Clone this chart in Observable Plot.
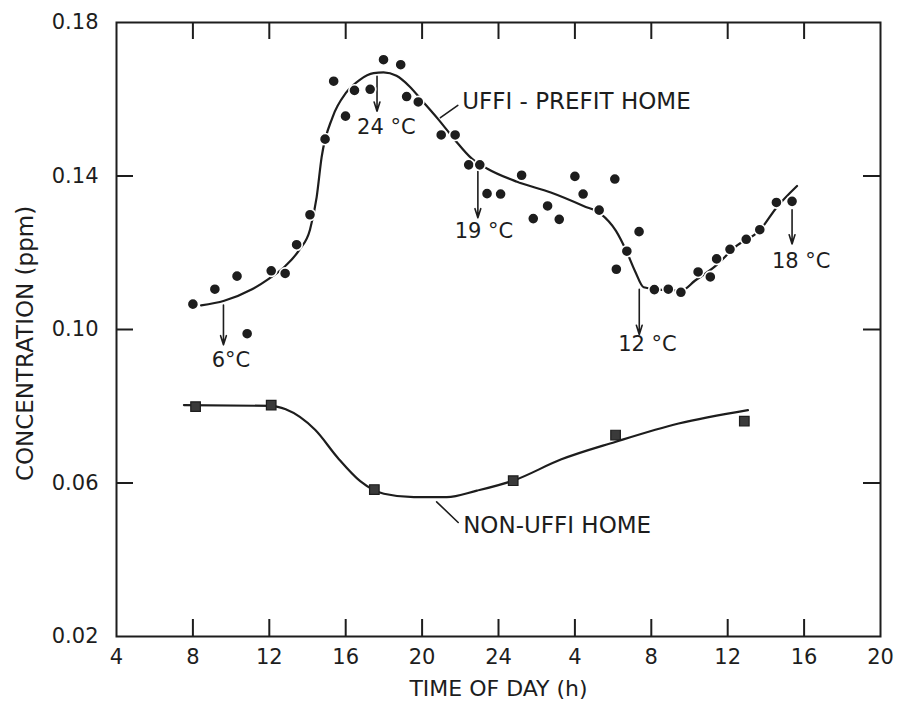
<!DOCTYPE html>
<html>
<head>
<meta charset="utf-8">
<script src="https://cdn.jsdelivr.net/npm/d3@7"></script>
<script src="https://cdn.jsdelivr.net/npm/@observablehq/plot@0.6"></script>
<style>
  html, body { margin: 0; padding: 0; background: #fff; }
  #chart svg { display: block; }
</style>
</head>
<body>
<div id="chart"></div>
<script>
// ---------- data ----------
// hours are continuous (4 .. 44); labels wrap past midnight
const xTickValues = [4, 8, 12, 16, 20, 24, 28, 32, 36, 40, 44];
const xTickLabels = ["4", "8", "12", "16", "20", "24", "4", "8", "12", "16", "20"];
const xInnerTicks = [8, 12, 16, 20, 24, 28, 32, 36, 40];
const yTickValues = [0.02, 0.06, 0.10, 0.14, 0.18];
const yTickLabels = ["0.02", "0.06", "0.10", "0.14", "0.18"];
const yInnerTicks = [0.06, 0.10, 0.14];

// UFFI-prefit home: measured points
const uffiTime = [8.0, 9.15, 10.31, 10.84, 12.10, 12.83, 13.43, 14.13, 14.92, 15.37, 15.99, 16.46, 17.28, 17.98, 18.88,
  19.19, 19.80, 21.0, 21.73, 22.44, 23.02, 23.40, 24.11, 25.21, 25.82, 26.57, 27.18, 28.0, 28.43, 29.27,
  30.09, 30.17, 30.72, 31.36, 32.16, 32.89, 33.55, 34.45, 35.09, 35.42, 36.12, 36.97, 37.68, 38.55, 39.37];
const uffiConc = [0.1066, 0.1105, 0.1139, 0.0989, 0.1153, 0.1146, 0.1221, 0.1299, 0.1496, 0.1647, 0.1556, 0.1623, 0.1626, 0.1703, 0.1690,
  0.1607, 0.1593, 0.1507, 0.1507, 0.1429, 0.1429, 0.1354, 0.1353, 0.1402, 0.1289, 0.1322, 0.1287, 0.1399, 0.1353, 0.1311,
  0.1392, 0.1157, 0.1204, 0.1255, 0.1104, 0.1105, 0.1097, 0.1150, 0.1137, 0.1184, 0.1209, 0.1235, 0.1260, 0.1331, 0.1334];

// UFFI-prefit home: hand-drawn fitted curve
const uffiFitTime = [8.43, 9.64, 11.07, 11.97, 12.83, 13.58, 14.13, 14.48, 14.74, 15.31, 16.02, 16.72, 17.46, 17.98, 18.66,
  19.33, 20.04, 20.86, 21.72, 22.59, 23.42, 24.97, 26.74, 28.45, 29.34, 30.15, 30.70, 31.15, 31.60, 32.54,
  33.59, 34.28, 35.35, 36.41, 37.69, 38.56, 39.63];
const uffiFitConc = [0.1063, 0.1075, 0.1104, 0.1132, 0.1165, 0.1208, 0.1260, 0.1345, 0.1449, 0.1553, 0.1617, 0.1650, 0.1668, 0.1670, 0.1661,
  0.1634, 0.1594, 0.1547, 0.1494, 0.1446, 0.1419, 0.1385, 0.1357, 0.1322, 0.1302, 0.1257, 0.1204, 0.1152, 0.1110, 0.1103,
  0.1102, 0.1127, 0.1165, 0.1216, 0.1259, 0.1318, 0.1374];

// Non-UFFI home: measured points
const nonTime = [8.14, 12.10, 17.50, 24.77, 30.13, 36.87];
const nonConc = [0.0799, 0.0803, 0.0583, 0.0606, 0.0725, 0.0761];

// Non-UFFI home: fitted curve
const nonFitTime = [7.53, 12.08, 12.86, 14.41, 15.58, 16.76, 18.0, 19.57, 21.29, 22.87, 24.77, 27.26, 30.11, 33.43, 37.06];
const nonFitConc = [0.0803, 0.0801, 0.0792, 0.0738, 0.0666, 0.0605, 0.0572, 0.0563, 0.0563, 0.0580, 0.0606, 0.0661, 0.0707, 0.0755, 0.0790];

// temperature annotations
const tempLabels = ["6°C", "24 °C", "19 °C", "12 °C", "18 °C"];
const tempArrowX = [9.6, 17.64, 22.92, 31.37, 39.37];
const tempArrowTop = [0.1064, 0.1660, 0.1422, 0.1105, 0.1312];
const tempArrowTip = [0.0960, 0.1569, 0.1291, 0.0987, 0.1223];
const tempTextX = [9.99, 18.13, 23.24, 31.80, 39.85];
const tempTextY = [0.0920, 0.1526, 0.1257, 0.0961, 0.1178];

// series labels with leader lines
const seriesLabels = ["UFFI - PREFIT HOME", "NON-UFFI HOME"];
const seriesLabelX = [22.10, 22.15];
const seriesLabelY = [0.1595, 0.0490];
const leaderFromX = [21.87, 21.89];
const leaderFromY = [0.1584, 0.0497];
const leaderToX = [20.96, 20.76];
const leaderToY = [0.1552, 0.0551];
const leaderBend = [0, 22];

const xTitle = "TIME OF DAY (h)";
const yTitle = "CONCENTRATION (ppm)";

// ---------- build tables ----------
const uffiPts = uffiTime.map((t, i) => ({t, c: uffiConc[i]}));
const uffiFit = uffiFitTime.map((t, i) => ({t, c: uffiFitConc[i]}));
const nonPts = nonTime.map((t, i) => ({t, c: nonConc[i]}));
const nonFit = nonFitTime.map((t, i) => ({t, c: nonFitConc[i]}));
const temps = tempLabels.map((label, i) => ({
  label, ax: tempArrowX[i], a1: tempArrowTop[i], a2: tempArrowTip[i], tx: tempTextX[i], ty: tempTextY[i]
}));
const series = seriesLabels.map((label, i) => ({
  label, x: seriesLabelX[i], y: seriesLabelY[i],
  x1: leaderFromX[i], y1: leaderFromY[i], x2: leaderToX[i], y2: leaderToY[i], bend: leaderBend[i]
}));

// ---------- layout ----------
const W = 902, H = 707;
const mL = 116, mR = 22, mT = 22, mB = 71;
const innerW = W - mL - mR, innerH = H - mT - mB;
const tickLen = 17;
const ink = "#1d1d1d";
const font = "'DejaVu Sans', 'Liberation Sans', sans-serif";

const chart = Plot.plot({
  width: W, height: H,
  marginLeft: mL, marginRight: mR, marginTop: mT, marginBottom: mB,
  style: {fontFamily: font, fontSize: "21px", color: ink, background: "#fff"},
  x: {domain: [4, 44]},
  y: {domain: [0.02, 0.18]},
  marks: [
    Plot.frame({stroke: ink, strokeWidth: 2}),
    // inward ticks on all four sides
    Plot.ruleX(xInnerTicks, {insetTop: innerH - tickLen, stroke: ink, strokeWidth: 2}),
    Plot.ruleX(xInnerTicks, {insetBottom: innerH - tickLen, stroke: ink, strokeWidth: 2}),
    Plot.ruleY(yInnerTicks, {insetRight: innerW - tickLen, stroke: ink, strokeWidth: 2}),
    Plot.ruleY(yInnerTicks, {insetLeft: innerW - tickLen, stroke: ink, strokeWidth: 2}),
    Plot.axisX({ticks: xTickValues, tickFormat: d => xTickLabels[xTickValues.indexOf(d)],
      tickSize: 0, tickPadding: 13, label: null, fontSize: 21}),
    Plot.axisY({ticks: yTickValues, tickFormat: d => yTickLabels[yTickValues.findIndex(v => Math.abs(v - d) < 1e-9)],
      tickSize: 0, tickPadding: 18, label: null, fontSize: 21}),
    Plot.text([xTitle], {text: d => d, frameAnchor: "bottom", dy: 59, fontSize: 22}),
    Plot.text([yTitle], {text: d => d, frameAnchor: "left", textAnchor: "middle", rotate: -90, dx: -91, dy: 14, fontSize: 23}),
    // fitted curves
    Plot.line(uffiFit, {x: "t", y: "c", curve: "monotone-x", stroke: ink, strokeWidth: 2.2}),
    Plot.line(nonFit, {x: "t", y: "c", curve: "monotone-x", stroke: ink, strokeWidth: 2.2}),
    // temperature arrows
    Plot.arrow(temps, {x1: "ax", y1: "a1", x2: "ax", y2: "a2", stroke: ink, strokeWidth: 1.6, headLength: 9, headAngle: 35}),
    // leader lines
    Plot.arrow(series, {x1: "x1", y1: "y1", x2: "x2", y2: "y2", bend: d => d.bend, stroke: ink, strokeWidth: 1.6, headLength: 6, headAngle: 50}),
    // measured points
    Plot.dot(uffiPts, {x: "t", y: "c", r: 5.6, fill: ink, stroke: "#fff", strokeWidth: 1.6}),
    Plot.dot(nonPts, {x: "t", y: "c", symbol: "square", r: 5.4, fill: "#3a3a3a", stroke: ink, strokeWidth: 1.2}),
    // labels
    Plot.text(temps, {x: "tx", y: "ty", text: "label", fontSize: 21}),
    Plot.text(series, {x: "x", y: "y", text: "label", textAnchor: "start", fontSize: 23})
  ]
});

document.getElementById("chart").appendChild(chart);
</script>
</body>
</html>
